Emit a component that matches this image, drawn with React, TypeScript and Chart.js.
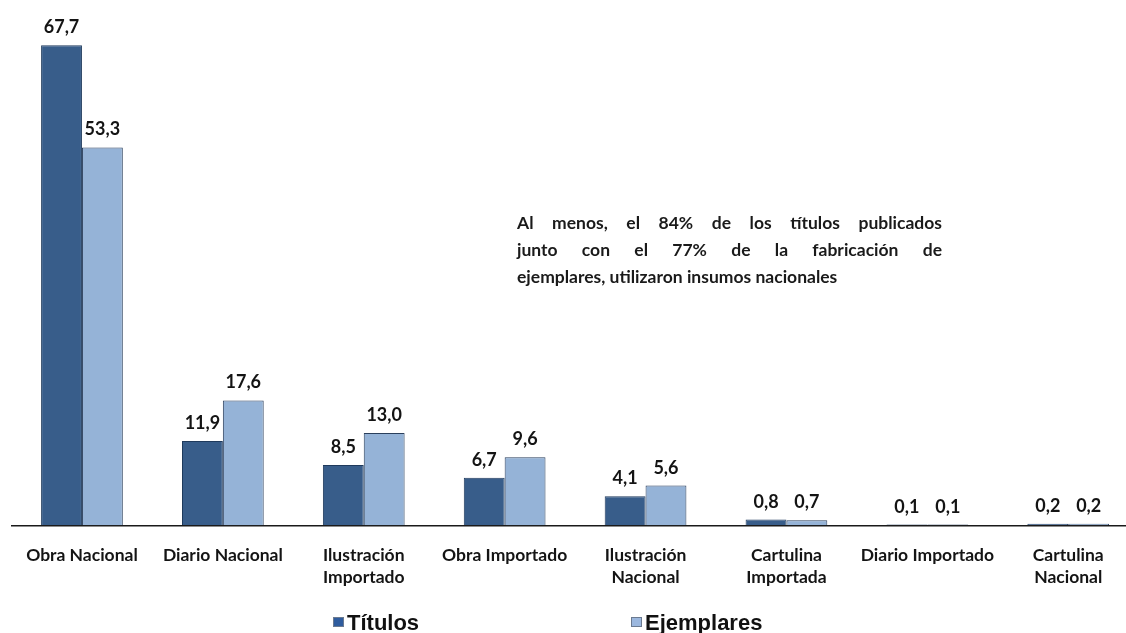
import { useEffect, useRef } from 'react';
import { Chart, registerables } from 'chart.js';

Chart.register(...registerables);

const categories: string[][] = [
  ['Obra Nacional'],
  ['Diario Nacional'],
  ['Ilustración', 'Importado'],
  ['Obra Importado'],
  ['Ilustración', 'Nacional'],
  ['Cartulina', 'Importada'],
  ['Diario Importado'],
  ['Cartulina', 'Nacional'],
];
const titulos = [67.7, 11.9, 8.5, 6.7, 4.1, 0.8, 0.1, 0.2];
const ejemplares = [53.3, 17.6, 13.0, 9.6, 5.6, 0.7, 0.1, 0.2];
const seriesNames = ['Títulos', 'Ejemplares'];
const noteLines = [
  'Al menos, el 84% de los títulos publicados',
  'junto con el 77% de la fabricación de',
  'ejemplares, utilizaron insumos nacionales',
];
const yMin = 0;
const yMax = 70;

const CANVAS_W = 1145;
const CANVAS_H = 633;
const FONT = 'Lato, "Open Sans", "DejaVu Sans", sans-serif';

const fmt = (v: number) => v.toFixed(1).replace('.', ',');

const valueLabelPlugin = {
  id: 'valueLabels',
  afterDatasetsDraw(chart: any) {
    const ctx = chart.ctx;
    ctx.save();
    ctx.font = `bold 18px ${FONT}`;
    ctx.fillStyle = '#141414';
    ctx.textAlign = 'center';
    ctx.textBaseline = 'alphabetic';
    chart.data.datasets.forEach((ds: any, di: number) => {
      const meta = chart.getDatasetMeta(di);
      meta.data.forEach((el: any, i: number) => {
        ctx.fillText(fmt(ds.data[i]), el.x, el.y - 12);
      });
    });
    ctx.restore();
  },
};

const notePlugin = {
  id: 'note',
  afterDraw(chart: any) {
    const ctx = chart.ctx;
    ctx.save();
    ctx.font = `bold 17.5px ${FONT}`;
    ctx.fillStyle = '#1a1a1a';
    ctx.textBaseline = 'alphabetic';
    ctx.textAlign = 'left';
    const x0 = 517;
    const width = 425;
    const baselines = [229, 256, 283];
    noteLines.forEach((line, li) => {
      const y = baselines[li];
      if (li === noteLines.length - 1) {
        ctx.fillText(line, x0, y);
        return;
      }
      const words = line.split(' ');
      const wordsW = words.reduce((s, w) => s + ctx.measureText(w).width, 0);
      const gap = (width - wordsW) / (words.length - 1);
      let x = x0;
      words.forEach((w) => {
        ctx.fillText(w, x, y);
        x += ctx.measureText(w).width + gap;
      });
    });
    ctx.restore();
  },
};

const legendPlugin = {
  id: 'customLegend',
  afterDraw(chart: any) {
    const ctx = chart.ctx;
    ctx.save();
    ctx.font = `bold 22px "Liberation Sans", Arial, sans-serif`;
    ctx.textBaseline = 'alphabetic';
    ctx.textAlign = 'left';
    const boxXs = [333, 631];
    const boxColors = ['#2F5C9E', '#9BB7DE'];
    chart.data.datasets.forEach((ds: any, i: number) => {
      const bx = boxXs[i];
      ctx.fillStyle = boxColors[i];
      ctx.fillRect(bx, 617, 11, 10);
      ctx.strokeStyle = '#6b7a90';
      ctx.lineWidth = 1;
      ctx.strokeRect(bx + 0.5, 617.5, 10, 9);
      ctx.fillStyle = '#111111';
      ctx.fillText(ds.label, bx + 14, 630);
    });
    ctx.restore();
  },
};

export default function App() {
  const ref = useRef<HTMLCanvasElement | null>(null);

  useEffect(() => {
    if (!ref.current) return;
    const chart = new Chart(ref.current, {
      type: 'bar',
      data: {
        labels: categories,
        datasets: [
          {
            label: seriesNames[0],
            data: titulos,
            backgroundColor: '#385D8A',
            borderColor: '#1F3A5C',
            borderWidth: 1,
            barPercentage: 1,
            categoryPercentage: 0.58,
          },
          {
            label: seriesNames[1],
            data: ejemplares,
            backgroundColor: '#95B3D7',
            borderColor: '#2A3F5C',
            borderWidth: 1,
            barPercentage: 1,
            categoryPercentage: 0.58,
          },
        ],
      },
      options: {
        responsive: false,
        animation: false,
        devicePixelRatio: 1,
        layout: {
          padding: { top: 29, left: 11.5, right: CANVAS_W - 1138.7, bottom: 34 },
        },
        plugins: {
          legend: { display: false },
          tooltip: { enabled: false },
        },
        scales: {
          x: {
            grid: { display: false },
            border: { display: true, color: '#1a1a1a', width: 1.5 },
            ticks: {
              color: '#141414',
              padding: 11,
              maxRotation: 0,
              autoSkip: false,
              font: { family: FONT, size: 17.5, weight: 'bold', lineHeight: 1.25 },
            },
            afterFit: (scale: any) => {
              scale.paddingLeft = 0;
              scale.paddingRight = 0;
            },
          },
          y: {
            display: false,
            min: yMin,
            max: yMax,
          },
        },
      },
      plugins: [valueLabelPlugin, notePlugin, legendPlugin],
    } as any);
    return () => chart.destroy();
  }, []);

  return (
    <div
      style={{
        position: 'fixed',
        left: 0,
        top: 0,
        width: 1126,
        height: 633,
        overflow: 'hidden',
        background: '#ffffff',
      }}
    >
      <canvas
        ref={ref}
        width={CANVAS_W}
        height={CANVAS_H}
        style={{ width: CANVAS_W, height: CANVAS_H, display: 'block' }}
      />
    </div>
  );
}
